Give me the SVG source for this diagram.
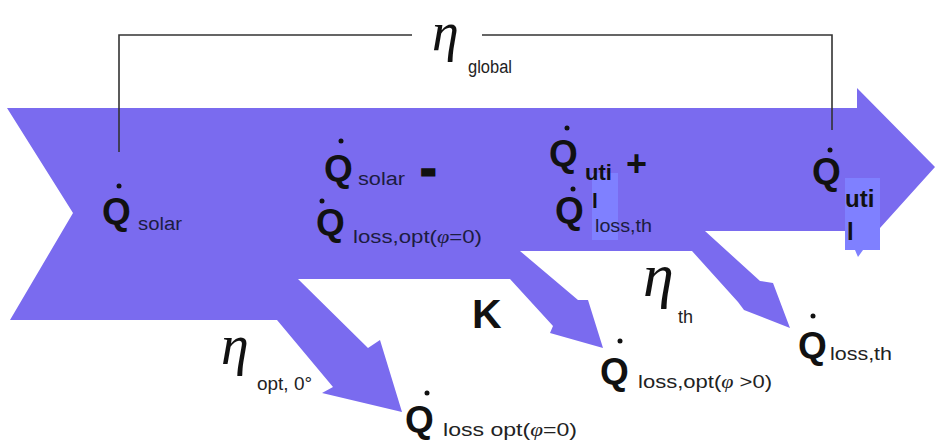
<svg xmlns="http://www.w3.org/2000/svg" width="935" height="442" viewBox="0 0 935 442">
<style>
.q{font-family:"Liberation Sans",Arial,sans-serif;font-weight:bold;font-size:37px;fill:#111}
.sub{font-family:"Liberation Sans",Arial,sans-serif;font-size:18px;fill:#1c1c40}
.subl{font-family:"Liberation Sans",Arial,sans-serif;font-size:18px;fill:#222}
.b{font-family:"Liberation Sans",Arial,sans-serif;font-weight:bold;fill:#111}
.eta{font-family:"Liberation Serif","Times New Roman",serif;font-style:italic;fill:#111}
.phi{font-family:"Liberation Serif",serif;font-style:italic}
.dot{fill:#111}
.hl{fill:#7f80ff}
.ln{stroke:#333;stroke-width:1.6;fill:none}
</style>
<rect width="935" height="442" fill="#fff"/>
<g id="flow">
<polygon fill="#7a6bef" points="7,108 857,108 857,88 935,167 880,228 880,231 705,231 760,281 773,283 790,328 744,310 738,302 692,251 520,251 578,300 588,300 603,348 550,333 553,326 510,279 298,279 368,348 380,340 402,412 322,393 333,387 277,320 10,320 73,213"/>
<rect class="hl" x="592" y="173" width="26" height="67"/>
<rect class="hl" x="845" y="178" width="35" height="72"/>
<polygon class="hl" points="855,250 863,250 858,257"/>
</g>
<g id="connectors">
<path class="ln" d="M119,152 V35 H412 M482,35 H832 V130"/>
</g>
<g id="eta-global">
<text class="eta" x="432" y="50" font-size="54">η</text>
<text class="subl" x="468" y="73" font-size="16" textLength="44" lengthAdjust="spacingAndGlyphs">global</text>
</g>
<g id="q-solar">
<circle class="dot" cx="119" cy="186" r="2.5"/>
<text class="q" x="102" y="224">Q</text>
<text class="sub" x="138" y="230" font-size="19" textLength="44" lengthAdjust="spacingAndGlyphs">solar</text>
</g>
<g id="q-solar-minus-loss">
<circle class="dot" cx="341" cy="141" r="2.5"/>
<text class="q" x="324" y="181">Q</text>
<text class="sub" x="358" y="185" font-size="20" textLength="47" lengthAdjust="spacingAndGlyphs">solar</text>
<text class="b" x="421" y="184" font-size="44" stroke="#111" stroke-width="3">-</text>
<circle class="dot" cx="322" cy="201" r="2.5"/>
<text class="q" x="316" y="235">Q</text>
<text class="sub" x="353" y="243" textLength="129" lengthAdjust="spacingAndGlyphs">loss,opt(<tspan class="phi">φ</tspan>=0)</text>
</g>
<g id="q-util-plus-loss">
<circle class="dot" cx="567" cy="128" r="2.5"/>
<text class="q" x="549" y="166">Q</text>
<text class="b" x="585" y="180" font-size="22">uti</text>
<text class="b" x="626" y="176" font-size="36">+</text>
<circle class="dot" cx="573" cy="189" r="2.5"/>
<text class="q" x="555" y="223">Q</text>
<text class="b" x="592" y="208" font-size="21">l</text>
<text class="sub" x="595" y="232" font-size="16" textLength="57" lengthAdjust="spacingAndGlyphs">loss,th</text>
</g>
<g id="q-util">
<circle class="dot" cx="830" cy="150" r="2.5"/>
<text class="q" x="812" y="184">Q</text>
<text class="b" x="845" y="207" font-size="24">uti</text>
<text class="b" x="847" y="240" font-size="24">l</text>
</g>
<g id="eta-opt">
<text class="eta" x="221" y="364" font-size="56">η</text>
<text class="subl" x="257" y="390" font-size="15" textLength="55" lengthAdjust="spacingAndGlyphs">opt, 0°</text>
</g>
<g id="k-label">
<text class="b" x="472" y="328" font-size="41">K</text>
</g>
<g id="eta-th">
<text class="eta" x="643" y="296" font-size="62">η</text>
<text class="subl" x="678" y="323" font-size="19">th</text>
</g>
<g id="q-loss-opt0">
<circle class="dot" cx="427" cy="393" r="2.5"/>
<text class="q" x="405" y="432">Q</text>
<text class="subl" x="443" y="436" textLength="134" lengthAdjust="spacingAndGlyphs">loss opt(<tspan class="phi">φ</tspan>=0)</text>
</g>
<g id="q-loss-opt-gt0">
<circle class="dot" cx="620" cy="341" r="2.5"/>
<text class="q" x="600" y="384">Q</text>
<text class="subl" x="638" y="388" textLength="134" lengthAdjust="spacingAndGlyphs">loss,opt(<tspan class="phi">φ</tspan> &gt;0)</text>
</g>
<g id="q-loss-th">
<circle class="dot" cx="813" cy="316" r="2.5"/>
<text class="q" x="798" y="358">Q</text>
<text class="subl" x="830" y="360" font-size="19" textLength="62" lengthAdjust="spacingAndGlyphs">loss,th</text>
</g>
</svg>
